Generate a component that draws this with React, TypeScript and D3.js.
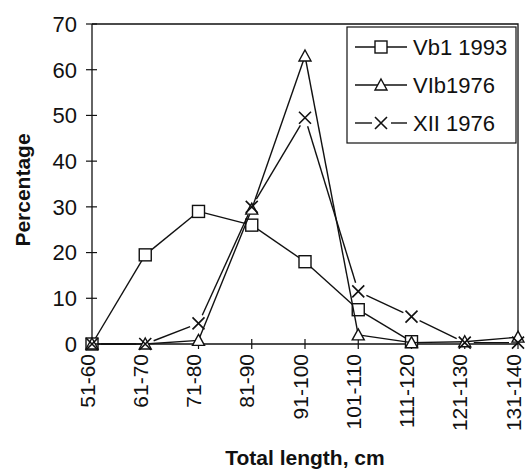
import React, { useRef, useEffect } from 'react';
import * as d3 from 'd3';

// size-class categories (total length, cm)
const categories = ['51-60', '61-70', '71-80', '81-90', '91-100', '101-110', '111-120', '121-130', '131-140'];
// percentage per class
const vb1_1993: (number | null)[] = [0, 19.5, 29, 26, 18, 7.5, 0.5, null, null];
const vib1976: (number | null)[] = [0, 0, 0.8, 29.5, 63, 2, 0.3, 0.5, 1.5];
const xii1976: (number | null)[] = [0, 0, 4.5, 30, 49.5, 11.5, 6, 0.3, 0.3];
const seriesNames = ['Vb1 1993', 'VIb1976', 'XII 1976'];
const yTicks = [0, 10, 20, 30, 40, 50, 60, 70];

type Marker = 'square' | 'triangle' | 'cross';

const App: React.FC = () => {
  const svgRef = useRef<SVGSVGElement | null>(null);

  useEffect(() => {
    const width = 525;
    const height = 475;
    const margin = { top: 24, right: 7, bottom: 132, left: 92 };
    const font = '"Liberation Sans", Arial, sans-serif';
    const ink = '#111';

    d3.select(svgRef.current).selectAll('*').remove();
    const svg = d3.select(svgRef.current).attr('width', width).attr('height', height);

    const x = d3.scalePoint<string>().domain(categories).range([margin.left, width - margin.right]).padding(0);
    const y = d3.scaleLinear().domain([0, 70]).range([height - margin.bottom + 1, margin.top]);
    const y0 = y(0);

    // frame: top + right border
    svg.append('path')
      .attr('d', `M${margin.left},${y(70)}H${width - margin.right}V${y0}`)
      .attr('fill', 'none').attr('stroke', ink).attr('stroke-width', 1.3);

    // y axis
    svg.append('line').attr('x1', margin.left).attr('x2', margin.left).attr('y1', y(70)).attr('y2', y0)
      .attr('stroke', ink).attr('stroke-width', 1.3);
    svg.selectAll('.ytick').data(yTicks).enter().append('line')
      .attr('x1', margin.left - 6).attr('x2', margin.left + 5)
      .attr('y1', d => y(d)).attr('y2', d => y(d))
      .attr('stroke', ink).attr('stroke-width', 1.2);
    svg.selectAll('.ylab').data(yTicks).enter().append('text')
      .attr('x', 77).attr('y', d => y(d)).attr('dy', '0.36em')
      .attr('text-anchor', 'end').attr('font-family', font).attr('font-size', 22).attr('fill', ink)
      .text(d => d);

    // x axis
    svg.append('line').attr('x1', margin.left).attr('x2', width - margin.right).attr('y1', y0).attr('y2', y0)
      .attr('stroke', ink).attr('stroke-width', 1.3);
    svg.selectAll('.xtick').data(categories).enter().append('line')
      .attr('x1', d => x(d)!).attr('x2', d => x(d)!)
      .attr('y1', y0 - 5).attr('y2', y0 + 5)
      .attr('stroke', ink).attr('stroke-width', 1.2);
    svg.selectAll('.xlab').data(categories).enter().append('text')
      .attr('transform', d => `translate(${x(d)! - 5},${y0 + 10}) rotate(-90)`)
      .attr('dy', '0.36em').attr('text-anchor', 'end')
      .attr('font-family', font).attr('font-size', 21).attr('fill', ink)
      .text(d => d);

    // axis titles
    svg.append('text')
      .attr('transform', `translate(30,${(y(70) + y0) / 2 + 6}) rotate(-90)`)
      .attr('text-anchor', 'middle').attr('font-family', font).attr('font-size', 21).attr('font-weight', 'bold')
      .attr('fill', ink).text('Percentage');
    svg.append('text')
      .attr('x', (margin.left + width - margin.right) / 2).attr('y', 465)
      .attr('text-anchor', 'middle').attr('font-family', font).attr('font-size', 21).attr('font-weight', 'bold')
      .attr('fill', ink).text('Total length, cm');

    const drawMarker = (g: d3.Selection<SVGGElement, unknown, null, undefined>, m: Marker, cx: number, cy: number) => {
      if (m === 'square') {
        g.append('rect').attr('x', cx - 6).attr('y', cy - 6).attr('width', 12).attr('height', 12)
          .attr('fill', 'white').attr('stroke', ink).attr('stroke-width', 1.4);
      } else if (m === 'triangle') {
        g.append('path').attr('d', `M${cx},${cy - 6}L${cx + 6},${cy + 5}L${cx - 6},${cy + 5}Z`)
          .attr('fill', 'white').attr('stroke', ink).attr('stroke-width', 1.4);
      } else {
        g.append('path').attr('d', `M${cx - 6},${cy - 6}L${cx + 6},${cy + 6}M${cx + 6},${cy - 6}L${cx - 6},${cy + 6}`)
          .attr('fill', 'none').attr('stroke', ink).attr('stroke-width', 1.6);
      }
    };

    const series: { values: (number | null)[]; marker: Marker; gap: number }[] = [
      { values: vb1_1993, marker: 'square', gap: 0 },
      { values: vib1976, marker: 'triangle', gap: 0 },
      { values: xii1976, marker: 'cross', gap: 9 },
    ];

    series.forEach(s => {
      const g = svg.append('g');
      const pts = categories
        .map((c, i) => ({ c, v: s.values[i] }))
        .filter(d => d.v !== null)
        .map(d => [x(d.c)!, y(d.v as number)] as [number, number]);
      // line segments, trimmed around the marker when gap > 0
      for (let i = 0; i < pts.length - 1; i++) {
        const [ax, ay] = pts[i];
        const [bx, by] = pts[i + 1];
        const len = Math.hypot(bx - ax, by - ay);
        const t = Math.min(s.gap / len, 0.45);
        g.append('line')
          .attr('x1', ax + (bx - ax) * t).attr('y1', ay + (by - ay) * t)
          .attr('x2', bx - (bx - ax) * t).attr('y2', by - (by - ay) * t)
          .attr('stroke', ink).attr('stroke-width', 1.4);
      }
      pts.forEach(([px, py]) => drawMarker(g, s.marker, px, py));
    });

    // legend
    const lg = svg.append('g');
    lg.append('rect').attr('x', 347).attr('y', 27).attr('width', 169).attr('height', 116)
      .attr('fill', 'white').attr('stroke', ink).attr('stroke-width', 1.2);
    series.forEach((s, i) => {
      const ly = 47 + i * 38;
      const g = lg.append('g');
      if (s.gap > 0) {
        g.append('line').attr('x1', 355).attr('x2', 372).attr('y1', ly).attr('y2', ly).attr('stroke', ink).attr('stroke-width', 1.4);
        g.append('line').attr('x1', 391).attr('x2', 407).attr('y1', ly).attr('y2', ly).attr('stroke', ink).attr('stroke-width', 1.4);
      } else {
        g.append('line').attr('x1', 355).attr('x2', 407).attr('y1', ly).attr('y2', ly).attr('stroke', ink).attr('stroke-width', 1.4);
      }
      drawMarker(g, s.marker, 381, ly);
      g.append('text').attr('x', 413).attr('y', ly).attr('dy', '0.36em')
        .attr('font-family', font).attr('font-size', 22).attr('fill', ink)
        .text(seriesNames[i]);
    });
  }, []);

  return <svg ref={svgRef} style={{ position: 'absolute', left: 0, top: 0 }}></svg>;
};

export default App;
